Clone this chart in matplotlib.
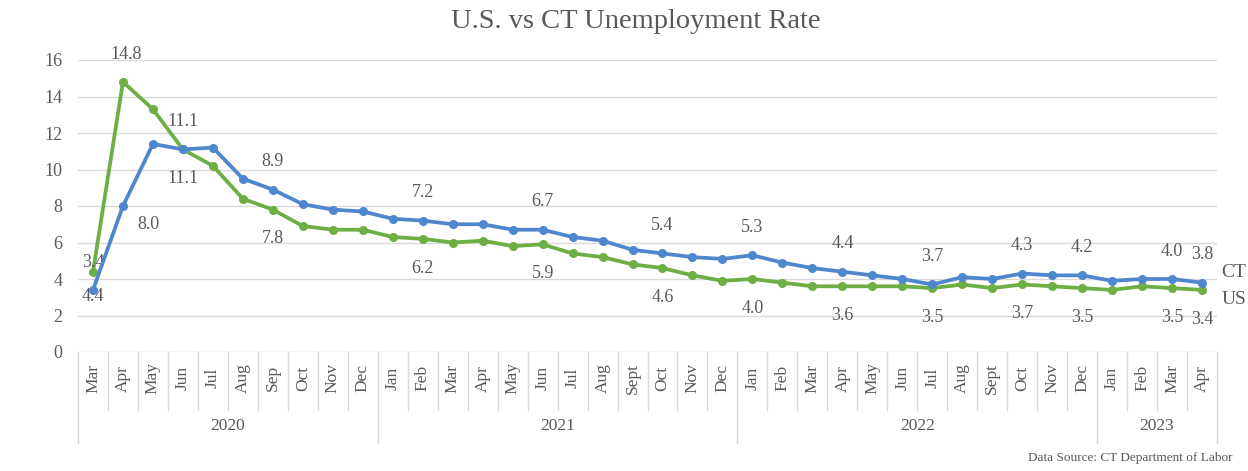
import matplotlib
matplotlib.use('Agg')
import matplotlib.pyplot as plt
import matplotlib.transforms as mtransforms
import numpy as np

plt.rcParams['font.family'] = ['Liberation Serif', 'DejaVu Serif']

months = ['Mar', 'Apr', 'May', 'Jun', 'Jul', 'Aug', 'Sep', 'Oct', 'Nov', 'Dec',
          'Jan', 'Feb', 'Mar', 'Apr', 'May', 'Jun', 'Jul', 'Aug', 'Sept', 'Oct', 'Nov', 'Dec',
          'Jan', 'Feb', 'Mar', 'Apr', 'May', 'Jun', 'Jul', 'Aug', 'Sept', 'Oct', 'Nov', 'Dec',
          'Jan', 'Feb', 'Mar', 'Apr']
years = ['2020', '2021', '2022', '2023']
months_per_year = [10, 12, 12, 4]

ct = [3.4, 8.0, 11.4, 11.1, 11.2, 9.5, 8.9, 8.1, 7.8, 7.7,
      7.3, 7.2, 7.0, 7.0, 6.7, 6.7, 6.3, 6.1, 5.6, 5.4, 5.2, 5.1,
      5.3, 4.9, 4.6, 4.4, 4.2, 4.0, 3.7, 4.1, 4.0, 4.3, 4.2, 4.2,
      3.9, 4.0, 4.0, 3.8]
us = [4.4, 14.8, 13.3, 11.1, 10.2, 8.4, 7.8, 6.9, 6.7, 6.7,
      6.3, 6.2, 6.0, 6.1, 5.8, 5.9, 5.4, 5.2, 4.8, 4.6, 4.2, 3.9,
      4.0, 3.8, 3.6, 3.6, 3.6, 3.6, 3.5, 3.7, 3.5, 3.7, 3.6, 3.5,
      3.4, 3.6, 3.5, 3.4]

# which points carry a value label
ct_labeled = [0, 1, 3, 6, 11, 15, 19, 22, 25, 28, 31, 33, 36, 37]
us_labeled = [0, 1, 3, 6, 11, 15, 19, 22, 25, 28, 31, 33, 36, 37]

grey = '#595959'
blue = '#4F87CF'
green = '#6DAE45'

fig = plt.figure(figsize=(12.48, 4.71), dpi=100)
ax = fig.add_axes([78 / 1248, 1 - 352 / 471, (1217 - 78) / 1248, 292 / 471])

x = np.arange(len(months))
ax.plot(x, us, color=green, lw=2.7, marker='o', ms=5.5, zorder=3)
ax.plot(x, ct, color=blue, lw=2.7, marker='o', ms=5.5, zorder=4)

ax.set_xlim(-0.5, len(months) - 0.5)
ax.set_ylim(0, 16)
ax.set_yticks(np.arange(0, 17, 2))
ax.grid(axis='y', color='#D9D9D9', lw=1)
ax.set_axisbelow(True)
for s in ax.spines.values():
    s.set_visible(False)
ax.tick_params(axis='y', length=0, pad=11, labelsize=13, labelcolor=grey)
ax.set_xticks([])

# multi-level category axis: months, then years
trans = mtransforms.blended_transform_factory(ax.transData, ax.transAxes)
for i, m in enumerate(months):
    ax.text(i, -0.09, m, transform=trans, rotation=90, ha='center', va='center',
            fontsize=12.5, color=grey)
bounds = np.cumsum([0] + months_per_year) - 0.5
for b in np.arange(-0.5, len(months)):
    long = b in bounds
    ax.plot([b, b], [0, -0.31 if long else -0.2], color='#D9D9D9', lw=1,
            transform=trans, clip_on=False)
for i, yr in enumerate(years):
    mid = (bounds[i] + bounds[i + 1]) / 2
    ax.text(mid, -0.255, yr, transform=trans, ha='center', va='center',
            fontsize=12.5, color=grey)

# value labels
for i in ct_labeled:
    off = (0, 20)
    if i == 1:
        off = (18, -13)
    ax.annotate(f'{ct[i]:.1f}', (i, ct[i]), xytext=off, textcoords='offset points',
                ha='center', va='center', fontsize=13, color=grey)
for i in us_labeled:
    off = (0, -21)
    if i == 1:
        off = (2, 20)
    if i == 0:
        off = (0, -18)
    ax.annotate(f'{us[i]:.1f}', (i, us[i]), xytext=off, textcoords='offset points',
                ha='center', va='center', fontsize=13, color=grey)

# series names at the line ends
ax.annotate('CT', (x[-1], ct[-1]), xytext=(23, 7), textcoords='offset points',
            ha='center', va='center', fontsize=14, color=grey, annotation_clip=False)
ax.annotate('US', (x[-1], us[-1]), xytext=(23, -7), textcoords='offset points',
            ha='center', va='center', fontsize=14, color=grey, annotation_clip=False)

fig.text(636 / 1248, 1 - 22 / 471, 'U.S. vs CT Unemployment Rate', ha='center', va='center',
         fontsize=20.5, color=grey)
fig.text(1232 / 1248, 1 - 458 / 471, 'Data Source: CT Department of Labor', ha='right',
         va='center', fontsize=9.5, color=grey)

fig.savefig('out.png', dpi=100)
